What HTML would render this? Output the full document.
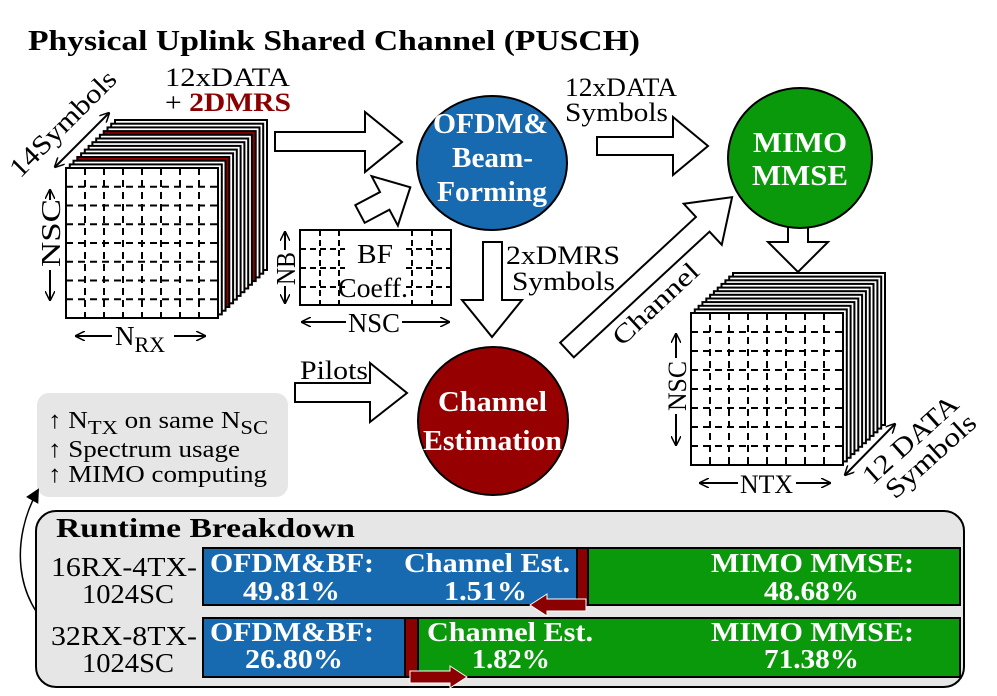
<!DOCTYPE html>
<html><head><meta charset="utf-8"><style>
html,body{margin:0;padding:0;background:#fff}
svg, svg text{font-family:"Liberation Serif","Times New Roman","DejaVu Serif",serif}
.b{font-weight:bold}
.w{fill:#fff;font-weight:bold}
</style></head><body>
<svg width="997" height="691" viewBox="0 0 997 691" xmlns="http://www.w3.org/2000/svg" font-family="Liberation Serif, Times New Roman, serif">
<defs>
<marker id="ah" markerWidth="10" markerHeight="10" refX="9" refY="5" orient="auto" markerUnits="userSpaceOnUse"><path d="M0,0 L10,5 L0,10" fill="none" stroke="#000" stroke-width="1.5"/></marker>
<marker id="ahs" markerWidth="10" markerHeight="10" refX="1" refY="5" orient="auto" markerUnits="userSpaceOnUse"><path d="M10,0 L0,5 L10,10" fill="none" stroke="#000" stroke-width="1.5"/></marker>
<marker id="fa" markerWidth="14" markerHeight="14" refX="12" refY="7" orient="auto" markerUnits="userSpaceOnUse"><path d="M0,0 L14,7 L0,14 Z" fill="#000"/></marker>
</defs>
<text x="28" y="50" class="b" font-size="28" textLength="612" lengthAdjust="spacingAndGlyphs">Physical Uplink Shared Channel (PUSCH)</text>

<!-- left cube -->
<g stroke="#000" stroke-width="2" fill="#fff">
<rect x="115" y="120" width="152" height="150"/>
<rect x="111.2" y="123.7" width="152" height="150"/>
<rect x="107.5" y="127.4" width="152" height="150"/>
<rect x="103.7" y="131.1" width="152" height="150" fill="#8b0000"/>
<rect x="99.9" y="134.8" width="152" height="150"/>
<rect x="96.2" y="138.5" width="152" height="150"/>
<rect x="92.4" y="142.2" width="152" height="150"/>
<rect x="88.6" y="145.9" width="152" height="150"/>
<rect x="84.8" y="149.6" width="152" height="150"/>
<rect x="81.1" y="153.3" width="152" height="150"/>
<rect x="77.3" y="157" width="152" height="150" fill="#8b0000"/>
<rect x="73.5" y="160.7" width="152" height="150"/>
<rect x="69.8" y="164.4" width="152" height="150"/>
<rect x="66" y="168" width="152" height="150"/>
</g>
<path d="M85,168V318M104,168V318M123,168V318M142,168V318M161,168V318M180,168V318M199,168V318M66,186.8H218M66,205.5H218M66,224.3H218M66,243H218M66,261.8H218M66,280.5H218M66,299.3H218" stroke="#000" stroke-width="2" stroke-dasharray="7,5" fill="none"/>
<text x="165" y="86" font-size="26" textLength="125" lengthAdjust="spacingAndGlyphs">12xDATA</text>
<text x="165" y="111" font-size="26" textLength="126" lengthAdjust="spacingAndGlyphs">+ <tspan class="b" fill="#8b0000">2DMRS</tspan></text>
<line x1="55" y1="167" x2="109" y2="113" stroke="#000" stroke-width="2" marker-end="url(#ah)" marker-start="url(#ahs)"/>
<text transform="translate(20,179) rotate(-45)" font-size="27" textLength="139" lengthAdjust="spacingAndGlyphs">14Symbols</text>
<line x1="50" y1="190" x2="50" y2="300" stroke="#000" stroke-width="2" marker-end="url(#ah)" marker-start="url(#ahs)"/>
<rect x="36" y="200" width="26" height="70" fill="#fff"/>
<text transform="translate(60,267) rotate(-90)" font-size="27" textLength="68" lengthAdjust="spacingAndGlyphs">NSC</text>
<line x1="76" y1="336" x2="205" y2="336" stroke="#000" stroke-width="2" marker-end="url(#ah)" marker-start="url(#ahs)"/>
<rect x="112" y="322" width="62" height="30" fill="#fff"/>
<text x="115" y="345" font-size="27">N<tspan font-size="22" dy="7">RX</tspan></text>

<!-- BF box -->
<rect x="300" y="230" width="151" height="75" fill="#fff" stroke="#000" stroke-width="2"/>
<path d="M320,230V305M339,230V305M412,230V305M432,230V305M300,249H345M300,268H345M300,287H345M406,249H451M406,268H451M406,287H451" stroke="#000" stroke-width="2" stroke-dasharray="6,4" fill="none"/>
<text x="357" y="263" font-size="27" textLength="36" lengthAdjust="spacingAndGlyphs">BF</text>
<text x="338" y="297" font-size="27" textLength="70" lengthAdjust="spacingAndGlyphs">Coeff.</text>
<line x1="285" y1="232" x2="285" y2="303" stroke="#000" stroke-width="2" marker-end="url(#ah)" marker-start="url(#ahs)"/>
<rect x="272" y="250" width="26" height="36" fill="#fff"/>
<text transform="translate(295,285) rotate(-90)" font-size="27" textLength="33" lengthAdjust="spacingAndGlyphs">NB</text>
<line x1="302" y1="322" x2="449" y2="322" stroke="#000" stroke-width="2" marker-end="url(#ah)" marker-start="url(#ahs)"/>
<rect x="346" y="308" width="56" height="28" fill="#fff"/>
<text x="348" y="332" font-size="27" textLength="52" lengthAdjust="spacingAndGlyphs">NSC</text>

<!-- hollow arrows -->
<g fill="#fff" stroke="#000" stroke-width="2">
<polygon points="275,132 365,132 365,112 402,142 365,172 365,151 275,151"/>
<polygon transform="translate(360,214) rotate(-28)" points="0,-10 28,-10 28,-28 57,0 28,28 28,10 0,10"/>
<polygon points="597,137 673,137 673,117 708,146 673,175 673,155 597,155"/>
<polygon points="483,242 502,242 502,300 522,300 492,337 462,300 483,300"/>
<polygon points="295,383 370,383 370,363 407,393 370,422 370,402 295,402"/>
<polygon transform="translate(567,350) rotate(-42.8)" points="0,-10 185,-10 185,-28 225,0 185,28 185,10 0,10"/>
<polygon points="788,226 808,226 808,242 828,242 798,272 768,242 788,242"/>
</g>
<text x="565" y="96" font-size="26" textLength="112" lengthAdjust="spacingAndGlyphs">12xDATA</text>
<text x="565" y="121" font-size="26" textLength="103" lengthAdjust="spacingAndGlyphs">Symbols</text>
<text x="506" y="264" font-size="26" textLength="114" lengthAdjust="spacingAndGlyphs">2xDMRS</text>
<text x="512" y="290" font-size="26" textLength="103" lengthAdjust="spacingAndGlyphs">Symbols</text>
<text x="300" y="379" font-size="26" textLength="68" lengthAdjust="spacingAndGlyphs">Pilots</text>
<text transform="translate(622,347) rotate(-43)" font-size="26" textLength="108" lengthAdjust="spacingAndGlyphs">Channel</text>

<!-- circles -->
<ellipse cx="492" cy="163" rx="75" ry="67" fill="#1769b0" stroke="#000" stroke-width="2"/>
<text x="433" y="133" class="w" font-size="28" textLength="115" lengthAdjust="spacingAndGlyphs">OFDM&amp;</text>
<text x="452" y="167" class="w" font-size="28" textLength="81" lengthAdjust="spacingAndGlyphs">Beam-</text>
<text x="437" y="201" class="w" font-size="28" textLength="110" lengthAdjust="spacingAndGlyphs">Forming</text>
<ellipse cx="800" cy="158" rx="72" ry="70" fill="#0a990a" stroke="#000" stroke-width="2"/>
<text x="753" y="152" class="w" font-size="28" textLength="94" lengthAdjust="spacingAndGlyphs">MIMO</text>
<text x="752" y="185" class="w" font-size="28" textLength="96" lengthAdjust="spacingAndGlyphs">MMSE</text>
<ellipse cx="493" cy="421" rx="75" ry="74" fill="#960000" stroke="#000" stroke-width="2"/>
<text x="438" y="411" class="w" font-size="28" textLength="109" lengthAdjust="spacingAndGlyphs">Channel</text>
<text x="423" y="450" class="w" font-size="28" textLength="139" lengthAdjust="spacingAndGlyphs">Estimation</text>

<!-- right cube -->
<g stroke="#000" stroke-width="2" fill="#fff">
<rect x="733" y="273" width="152" height="152"/>
<rect x="729.2" y="276.6" width="152" height="152"/>
<rect x="725.4" y="280.3" width="152" height="152"/>
<rect x="721.5" y="283.9" width="152" height="152"/>
<rect x="717.7" y="287.6" width="152" height="152"/>
<rect x="713.9" y="291.2" width="152" height="152"/>
<rect x="710.1" y="294.8" width="152" height="152"/>
<rect x="706.3" y="298.5" width="152" height="152"/>
<rect x="702.4" y="302.1" width="152" height="152"/>
<rect x="698.6" y="305.8" width="152" height="152"/>
<rect x="694.8" y="309.4" width="152" height="152"/>
<rect x="691" y="313" width="152" height="152"/>
</g>
<path d="M710,313V465M729,313V465M748,313V465M767,313V465M786,313V465M805,313V465M824,313V465M691,332H843M691,351H843M691,370H843M691,389H843M691,408H843M691,427H843M691,446H843" stroke="#000" stroke-width="2" stroke-dasharray="7,5" fill="none"/>
<line x1="676" y1="334" x2="676" y2="445" stroke="#000" stroke-width="2" marker-end="url(#ah)" marker-start="url(#ahs)"/>
<rect x="663" y="358" width="26" height="56" fill="#fff"/>
<text transform="translate(686,411) rotate(-90)" font-size="26" textLength="50" lengthAdjust="spacingAndGlyphs">NSC</text>
<line x1="700" y1="483" x2="830" y2="483" stroke="#000" stroke-width="2" marker-end="url(#ah)" marker-start="url(#ahs)"/>
<rect x="738" y="470" width="58" height="28" fill="#fff"/>
<text x="740" y="493" font-size="26" textLength="53" lengthAdjust="spacingAndGlyphs">NTX</text>
<line x1="845" y1="475" x2="895" y2="424" stroke="#000" stroke-width="2" marker-end="url(#ah)" marker-start="url(#ahs)"/>
<text transform="translate(872,486) rotate(-42)" font-size="27" textLength="119" lengthAdjust="spacingAndGlyphs">12 DATA</text>
<text transform="translate(895,500) rotate(-42)" font-size="27" textLength="112" lengthAdjust="spacingAndGlyphs">Symbols</text>

<!-- grey note -->
<rect x="37" y="393" width="251" height="104" rx="12" fill="#e6e6e6"/>
<text x="48" y="428" font-size="24" textLength="220" lengthAdjust="spacingAndGlyphs">↑ N<tspan font-size="20" dy="6">TX</tspan><tspan dy="-6"> on same N</tspan><tspan font-size="20" dy="6">SC</tspan></text>
<text x="48" y="457" font-size="24" textLength="192" lengthAdjust="spacingAndGlyphs">↑ Spectrum usage</text>
<text x="48" y="482" font-size="24" textLength="219" lengthAdjust="spacingAndGlyphs">↑ MIMO computing</text>
<path d="M55,632 C15,600 10,540 38,490" fill="none" stroke="#000" stroke-width="1.5" marker-end="url(#fa)"/>

<!-- runtime -->
<rect x="36" y="511" width="928" height="176" rx="20" fill="#e6e6e6" stroke="#000" stroke-width="2"/>
<text x="56" y="537" class="b" font-size="27" textLength="299" lengthAdjust="spacingAndGlyphs">Runtime Breakdown</text>
<text x="51" y="576" font-size="27" textLength="146" lengthAdjust="spacingAndGlyphs">16RX-4TX-</text>
<text x="82" y="603" font-size="27" textLength="92" lengthAdjust="spacingAndGlyphs">1024SC</text>
<text x="51" y="645" font-size="27" textLength="146" lengthAdjust="spacingAndGlyphs">32RX-8TX-</text>
<text x="82" y="672" font-size="27" textLength="92" lengthAdjust="spacingAndGlyphs">1024SC</text>
<g stroke="#000" stroke-width="2">
<rect x="203" y="548" width="374" height="57" fill="#1769b0"/>
<rect x="577" y="548" width="11" height="57" fill="#8b0000"/>
<rect x="588" y="548" width="372" height="57" fill="#0a990a"/>
<rect x="203" y="618" width="202" height="59" fill="#1769b0"/>
<rect x="405" y="618" width="13" height="59" fill="#8b0000"/>
<rect x="418" y="618" width="542" height="59" fill="#0a990a"/>
</g>
<g class="w" font-size="27" lengthAdjust="spacingAndGlyphs">
<text x="210" y="572" textLength="164" lengthAdjust="spacingAndGlyphs">OFDM&amp;BF:</text>
<text x="243" y="600" textLength="97" lengthAdjust="spacingAndGlyphs">49.81%</text>
<text x="404" y="572" textLength="166" lengthAdjust="spacingAndGlyphs">Channel Est.</text>
<text x="444" y="600" textLength="83" lengthAdjust="spacingAndGlyphs">1.51%</text>
<text x="711" y="572" textLength="203" lengthAdjust="spacingAndGlyphs">MIMO MMSE:</text>
<text x="764" y="600" textLength="95" lengthAdjust="spacingAndGlyphs">48.68%</text>
<text x="210" y="641" textLength="164" lengthAdjust="spacingAndGlyphs">OFDM&amp;BF:</text>
<text x="245" y="668" textLength="98" lengthAdjust="spacingAndGlyphs">26.80%</text>
<text x="427" y="641" textLength="166" lengthAdjust="spacingAndGlyphs">Channel Est.</text>
<text x="472" y="668" textLength="78" lengthAdjust="spacingAndGlyphs">1.82%</text>
<text x="711" y="641" textLength="203" lengthAdjust="spacingAndGlyphs">MIMO MMSE:</text>
<text x="764" y="668" textLength="95" lengthAdjust="spacingAndGlyphs">71.38%</text>
</g>
<polygon points="530,605 547,594 547,599 586,599 586,611 547,611 547,616" fill="#8b0000" stroke="#fff" stroke-width="1"/>
<polygon points="467,677 450,666 450,671 410,671 410,683 450,683 450,688" fill="#8b0000" stroke="#fff" stroke-width="1"/>
</svg>
</body></html>
